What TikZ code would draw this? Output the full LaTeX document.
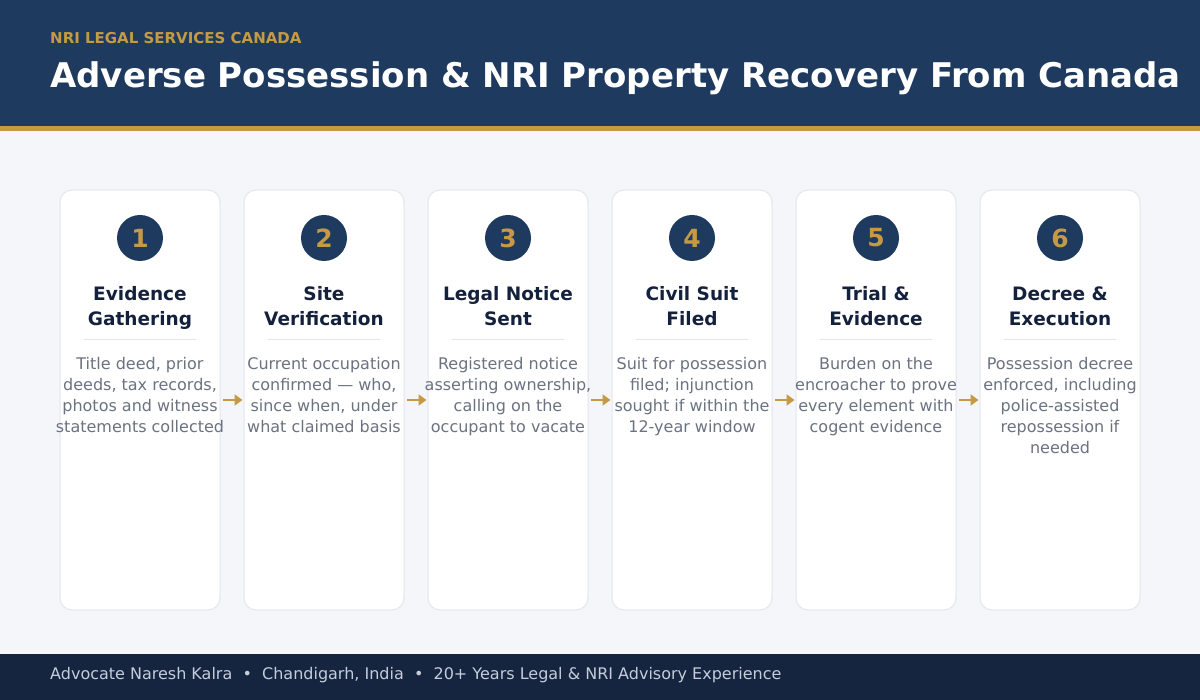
\documentclass[tikz,border=0pt]{standalone}
\usepackage{fontspec}
\setmainfont{DejaVu Sans}
\usetikzlibrary{arrows.meta}
\definecolor{navy}{HTML}{1F3A5F}
\definecolor{gold}{HTML}{C49A45}
\definecolor{footbg}{HTML}{15243F}
\definecolor{pagebg}{HTML}{F5F6FA}
\definecolor{cardline}{HTML}{E2E5EE}
\definecolor{ttlcol}{HTML}{14213D}
\definecolor{desccol}{HTML}{6B7280}
\definecolor{footcol}{HTML}{C5CCDA}
\tikzset{
  cardbox/.style={draw=cardline, line width=1pt, fill=white, rounded corners=12pt, minimum width=160pt, minimum height=420pt, inner sep=0pt},
  numcirc/.style={circle, fill=navy, minimum size=46pt, inner sep=0pt, text=gold, font=\fontsize{25}{25}\selectfont\bfseries},
  ttltext/.style={anchor=north, inner sep=0pt, align=center, text=ttlcol, font=\fontsize{18.5}{25}\selectfont\bfseries},
  desctext/.style={anchor=north, inner sep=0pt, align=center, text=desccol, font=\fontsize{16}{21}\selectfont},
  divider/.style={draw=cardline, line width=1pt},
  flowarrow/.style={draw=gold, line width=2.5pt, -{Triangle[length=8pt,width=11pt]}},
}
\begin{document}
\begin{tikzpicture}[x=1pt,y=-1pt]
\useasboundingbox (0,0) rectangle (1200,700);
\fill[pagebg] (0,0) rectangle (1200,700);
\fill[navy] (0,0) rectangle (1200,126);
\fill[gold] (0,126) rectangle (1200,131);
\fill[footbg] (0,654) rectangle (1200,700);
\node[anchor=base west, inner sep=0pt, text=gold, font=\fontsize{15}{15}\selectfont\bfseries] (sub) at (50,44) {NRI LEGAL SERVICES CANADA};
\node[anchor=base west, inner sep=0pt, text=white, font=\fontsize{34}{34}\selectfont\bfseries] (title) at (50,88) {Adverse Possession \& NRI Property Recovery From Canada};
\node[anchor=base west, inner sep=0pt, text=footcol, font=\fontsize{16}{16}\selectfont] (foot) at (50,679) {Advocate Naresh Kalra~~•~~Chandigarh, India~~•~~20+ Years Legal \& NRI Advisory Experience};
\foreach \i/\t/\d in {
 1/{Evidence\\Gathering}/{Title deed, prior\\deeds, tax records,\\photos and witness\\statements collected},
 2/{Site\\Verification}/{Current occupation\\confirmed — who,\\since when, under\\what claimed basis},
 3/{Legal Notice\\Sent}/{Registered notice\\asserting ownership,\\calling on the\\occupant to vacate},
 4/{Civil Suit\\Filed}/{Suit for possession\\filed; injunction\\sought if within the\\12-year window},
 5/{Trial \&\\Evidence}/{Burden on the\\encroacher to prove\\every element with\\cogent evidence},
 6/{Decree \&\\Execution}/{Possession decree\\enforced, including\\police-assisted\\repossession if\\needed}}{
  \pgfmathsetmacro{\cx}{140+184*(\i-1)}
  \node[cardbox] (card\i) at (\cx,400) {};
  \node[numcirc] (num\i) at (\cx,238) {\i};
  \node[ttltext] (ttl\i) at (\cx,286) {\vphantom{\&d}\t};
  \draw[divider] (\cx-56,340) -- (\cx+56,340);
  \node[desctext] (desc\i) at (\cx,357) {\vphantom{Td}\d};
}
\foreach \i [evaluate=\i as \j using int(\i+1)] in {1,...,5}{
  \draw[flowarrow] ([xshift=2pt]card\i.east) -- ([xshift=-1pt]card\j.west);
}
\end{tikzpicture}
\end{document}
